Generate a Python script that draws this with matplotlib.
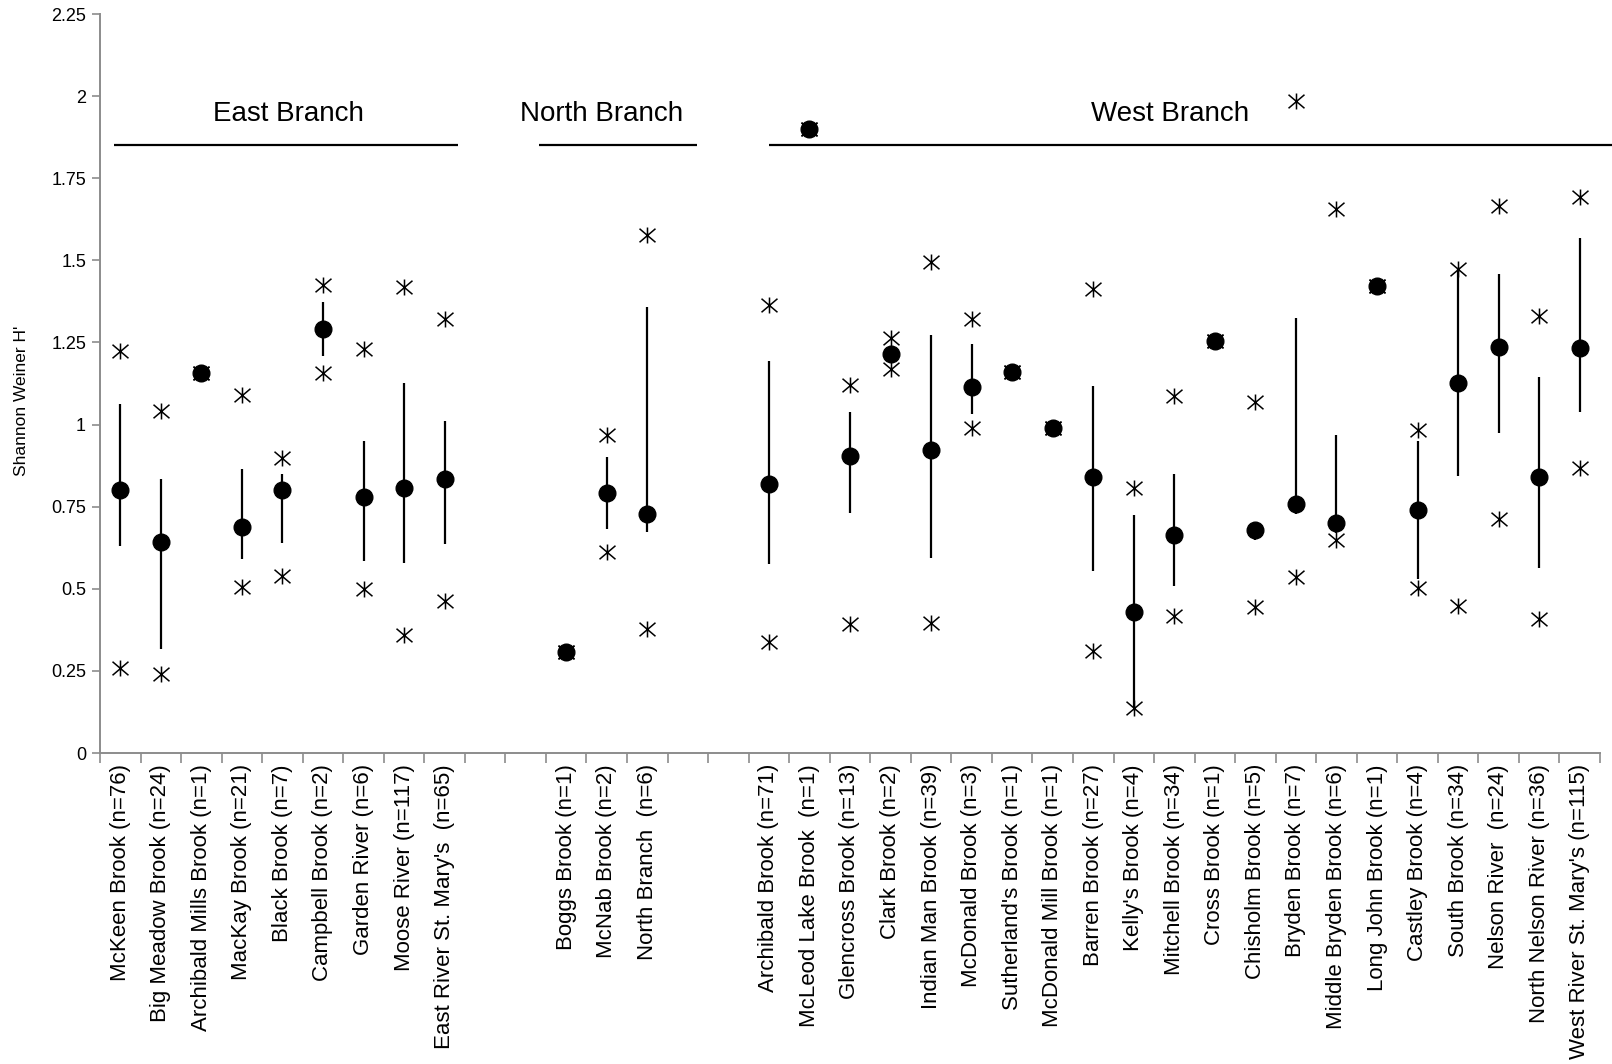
import matplotlib
matplotlib.use("Agg")
import matplotlib.pyplot as plt
from matplotlib.path import Path
from matplotlib.ticker import FixedLocator, NullFormatter
import numpy as np

plt.rcParams['font.family'] = ['Liberation Sans', 'DejaVu Sans']

# ---- data -------------------------------------------------------------
east_sites = ["McKeen Brook (n=76)", "Big Meadow Brook (n=24)", "Archibald Mills Brook (n=1)",
              "MacKay Brook (n=21)", "Black Brook (n=7)", "Campbell Brook (n=2)",
              "Garden River (n=6)", "Moose River (n=117)", "East River St. Mary's  (n=65)"]
north_sites = ["Boggs Brook (n=1)", "McNab Brook (n=2)", "North Branch  (n=6)"]
west_sites = ["Archibald Brook (n=71)", "McLeod Lake Brook  (n=1)", "Glencross Brook (n=13)",
              "Clark Brook (n=2)", "Indian Man Brook (n=39)", "McDonald Brook (n=3)",
              "Sutherland's Brook (n=1)", "McDonald Mill Brook (n=1)", "Barren Brook (n=27)",
              "Kelly's Brook (n=4)", "Mitchell Brook (n=34)", "Cross Brook (n=1)",
              "Chisholm Brook (n=5)", "Bryden Brook (n=7)", "Middle Bryden Brook (n=6)",
              "Long John Brook (n=1)", "Castley Brook (n=4)", "South Brook (n=34)",
              "Nelson River  (n=24)", "North Nelson River (n=36)", "West River St. Mary's (n=115)"]

# mean Shannon H', lower / upper end of the error bar, minimum, maximum
east_mean = [0.800, 0.642, 1.158, 0.689, 0.801, 1.291, 0.780, 0.807, 0.834]
east_lo   = [0.630, 0.318, 1.158, 0.591, 0.640, 1.209, 0.584, 0.579, 0.636]
east_hi   = [1.063, 0.835, 1.158, 0.864, 0.849, 1.374, 0.951, 1.127, 1.012]
east_min  = [0.260, 0.240, 1.158, 0.505, 0.540, 1.157, 0.499, 0.359, 0.463]
east_max  = [1.225, 1.040, 1.158, 1.090, 0.898, 1.425, 1.230, 1.420, 1.321]

north_mean = [0.308, 0.792, 0.729]
north_lo   = [0.308, 0.681, 0.672]
north_hi   = [0.308, 0.901, 1.359]
north_min  = [0.308, 0.613, 0.379]
north_max  = [0.308, 0.969, 1.578]

west_mean = [0.819, 1.901, 0.905, 1.216, 0.922, 1.114, 1.161, 0.989, 0.840, 0.428, 0.663,
             1.253, 0.680, 0.758, 0.701, 1.421, 0.741, 1.128, 1.237, 0.841, 1.234]
west_lo   = [0.575, 1.901, 0.732, 1.190, 0.595, 1.033, 1.161, 0.989, 0.554, 0.140, 0.508,
             1.253, 0.647, 0.729, 0.670, 1.421, 0.530, 0.843, 0.973, 0.564, 1.038]
west_hi   = [1.194, 1.901, 1.037, 1.240, 1.274, 1.245, 1.161, 0.989, 1.118, 0.725, 0.850,
             1.253, 0.700, 1.325, 0.967, 1.421, 0.951, 1.475, 1.457, 1.144, 1.567]
west_min  = [0.338, 1.901, 0.393, 1.168, 0.395, 0.988, 1.161, 0.989, 0.311, 0.137, 0.418,
             1.253, 0.445, 0.537, 0.647, 1.421, 0.502, 0.449, 0.711, 0.409, 0.867]
west_max  = [1.364, 1.901, 1.119, 1.264, 1.495, 1.321, 1.161, 0.989, 1.414, 0.808, 1.088,
             1.253, 1.069, 1.985, 1.655, 1.421, 0.984, 1.475, 1.666, 1.330, 1.694]

branch_names = ["East Branch", "North Branch", "West Branch"]
y_ticks = [0, 0.25, 0.5, 0.75, 1, 1.25, 1.5, 1.75, 2, 2.25]
y_tick_labels = ["0", "0.25", "0.5", "0.75", "1", "1.25", "1.5", "1.75", "2", "2.25"]

# ---- category layout: two empty slots between branches ------------------
GAP = 2
groups = [
    (east_sites, east_mean, east_lo, east_hi, east_min, east_max),
    (north_sites, north_mean, north_lo, north_hi, north_min, north_max),
    (west_sites, west_mean, west_lo, west_hi, west_min, west_max),
]
slot_labels = []
pos, mean, lo, hi, mn, mx = [], [], [], [], [], []
for gi, (names, m, l, h, a, b) in enumerate(groups):
    if gi > 0:
        slot_labels += [""] * GAP
    for nm in names:
        pos.append(len(slot_labels))
        slot_labels.append(nm)
    mean += m; lo += l; hi += h; mn += a; mx += b
n_slots = len(slot_labels)
pos = np.array(pos)

# six-armed asterisk marker (X plus vertical stroke)
star = Path([(-1, -0.85), (1, 0.85), (-1, 0.85), (1, -0.85), (0, -1), (0, 1)],
            [Path.MOVETO, Path.LINETO, Path.MOVETO, Path.LINETO, Path.MOVETO, Path.LINETO])

# ---- figure -----------------------------------------------------------
fig = plt.figure(figsize=(16.12, 10.64), dpi=100)
ax = fig.add_axes([100 / 1612, 1 - 753 / 1064, 1500 / 1612, 739 / 1064])

ax.vlines(pos, lo, hi, color="black", lw=1.6, zorder=2)
ax.plot(pos, mn, linestyle="none", marker=star, ms=11.5, mew=1.1, mec="black",
        mfc="none", zorder=3)
ax.plot(pos, mx, linestyle="none", marker=star, ms=11.5, mew=1.1, mec="black",
        mfc="none", zorder=3)
ax.plot(pos, mean, linestyle="none", marker="o", ms=12, mfc="black", mec="black",
        zorder=4)

ax.set_xlim(-0.5, n_slots - 0.5)
ax.set_ylim(0, 2.25)

# y axis
ax.set_yticks(y_ticks)
ax.set_yticklabels(y_tick_labels, fontsize=13)
ax.set_ylabel("Shannon Weiner H'", fontsize=12.5)
ax.yaxis.set_label_coords(-0.047, 0.476)

# x axis: tick marks between categories, labels at category centres
ax.xaxis.set_major_locator(FixedLocator(np.arange(n_slots + 1) - 0.5))
ax.xaxis.set_major_formatter(NullFormatter())
ax.set_xticks(np.arange(n_slots), minor=True)
ax.set_xticklabels(slot_labels, minor=True, rotation=90, fontsize=16)
ax.tick_params(axis="x", which="major", length=7, width=1.2, color="#8c8c8c")
ax.tick_params(axis="x", which="minor", length=0, pad=8)
ax.tick_params(axis="y", length=6, width=1.2, color="#8c8c8c", pad=4)

for side in ("top", "right"):
    ax.spines[side].set_visible(False)
for side in ("left", "bottom"):
    ax.spines[side].set_color("#8c8c8c")
    ax.spines[side].set_linewidth(1.4)

# branch headings with underline
line_y = 1.85
text_y = 1.924
spans = [(-0.15, 8.33), (10.33, 14.23), (16.0, 36.8)]
centers = [4.14, 11.88, 25.9]
for name, (x0, x1), xc in zip(branch_names, spans, centers):
    ax.plot([x0, x1], [line_y, line_y], color="black", lw=1.6, clip_on=False,
            solid_capstyle="butt")
    ax.text(xc, text_y, name, ha="center", va="baseline", fontsize=20)

fig.savefig("out.png", dpi=100)
